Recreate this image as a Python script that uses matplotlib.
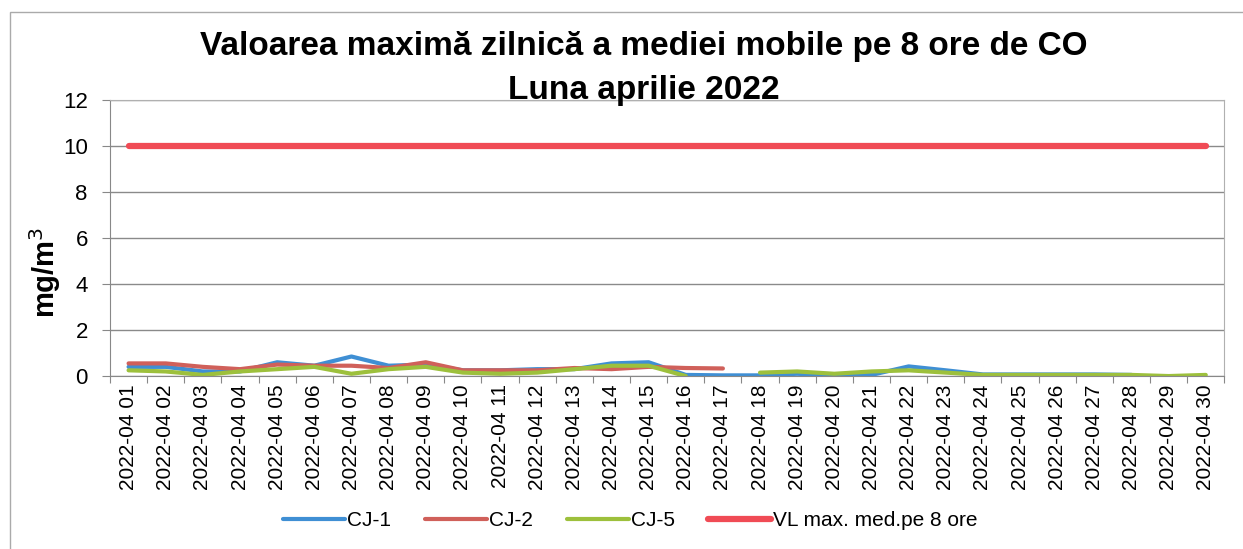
import numpy as np
import matplotlib
matplotlib.use("Agg")
import matplotlib.pyplot as plt
from matplotlib.patches import Rectangle

plt.rcParams['font.family'] = ['Liberation Sans', 'DejaVu Sans']

nan = np.nan
days = [f"2022-04 {d:02d}" for d in range(1, 31)]

cj1 = [0.4, 0.4, 0.2, 0.2, 0.6, 0.45, 0.85, 0.45, 0.5, 0.25,
       0.25, 0.3, 0.3, 0.55, 0.6, 0.05, 0.03, 0.03, 0.1, 0.03,
       0.05, 0.42, 0.25, 0.07, 0.07, 0.07, 0.07, 0.05, nan, nan]
cj2 = [0.55, 0.55, 0.4, 0.3, 0.5, 0.45, 0.45, 0.35, 0.6, 0.25,
       0.25, 0.25, 0.35, 0.3, 0.4, 0.35, 0.33, nan, nan, nan,
       nan, nan, nan, nan, nan, nan, nan, nan, nan, nan]
cj5 = [0.25, 0.2, 0.05, 0.2, 0.3, 0.4, 0.1, 0.3, 0.4, 0.15,
       0.1, 0.15, 0.3, 0.45, 0.45, 0.0, nan, 0.15, 0.2, 0.1,
       0.2, 0.25, 0.15, 0.05, 0.05, 0.05, 0.05, 0.05, 0.0, 0.05]
vl = [10] * 30

fig = plt.figure(figsize=(12.43, 5.49), dpi=100)
ax = fig.add_axes([0.0885, 0.315, 0.8965, 0.503])

x = np.arange(len(days))
ax.plot(x, cj1, color='#3f8fd4', lw=3, label='CJ-1', solid_capstyle='round')
ax.plot(x, cj2, color='#d0605a', lw=3, label='CJ-2', solid_capstyle='round')
ax.plot(x, cj5, color='#9dc03c', lw=3, label='CJ-5', solid_capstyle='round')
ax.plot(x, vl, color='#f04b55', lw=4.5, label='VL max. med.pe 8 ore', solid_capstyle='round')

ax.set_xlim(-0.5, len(days) - 0.5)
ax.set_ylim(0, 12)
ax.set_yticks(range(0, 13, 2))
ax.set_xticks(np.arange(-0.5, len(days)), minor=False)
ax.set_xticklabels([])
ax.set_xticks(x, minor=True)
ax.set_xticklabels(days, minor=True, rotation=90, fontsize=15)
ax.tick_params(axis='x', which='minor', length=0, pad=6)
ax.tick_params(axis='x', which='major', length=5, color='#888888')
ax.tick_params(axis='y', length=6, color='#888888', labelsize=16, pad=10)
ax.grid(axis='y', color='#8a8a8a', lw=1)
for s in ax.spines.values():
    s.set_color('#b0b0b0')
ax.spines['left'].set_color('#888888')
ax.spines['bottom'].set_color('#888888')

fig.text(0.036, 0.503, 'mg/m$^3$', rotation=90, ha='center', va='center',
         fontsize=21, fontweight='bold')

fig.text(0.518, 0.915, 'Valoarea maximă zilnică a mediei mobile pe 8 ore de CO',
         ha='center', va='center', fontsize=24, fontweight='bold')
fig.text(0.518, 0.835, 'Luna aprilie 2022',
         ha='center', va='center', fontsize=24, fontweight='bold')

fig.legend(loc='center', bbox_to_anchor=(0.507, 0.052), ncol=4, frameon=False,
           fontsize=15, handlelength=3.0, handletextpad=0.1, columnspacing=1.6)

fig.patches.append(Rectangle((0.008, -0.05), 1.2, 1.028, transform=fig.transFigure,
                             fill=False, edgecolor='#aaaaaa', lw=1))

fig.savefig('out.png', dpi=100)
